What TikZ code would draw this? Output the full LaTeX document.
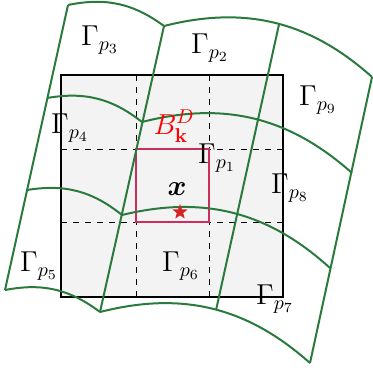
\documentclass[tikz,border=0pt]{standalone}
\usepackage{amsmath,amssymb,bm}
\usepackage{tikz}
\usetikzlibrary{shapes.geometric,arrows.meta,positioning,calc}
\definecolor{mesh}{HTML}{2A7A3E}
\definecolor{cellred}{HTML}{CC2E5C}
\definecolor{starred}{HTML}{D62424}
\definecolor{boxgray}{HTML}{F3F3F3}

\begin{document}
\begin{tikzpicture}[
    x=0.5pt, y=-0.5pt,
    patch/.style={draw=mesh, line width=1pt},
    grid/.style={draw=black, line width=0.5pt, dashed},
    cell/.style={draw=cellred, line width=0.8pt},
    lab/.style={font=\Large, inner sep=0pt},
    arc/.style={bend left=28},
    shortarc/.style={bend left=24},
]
    \useasboundingbox (0,0) rectangle (373,370);

    % background square and its dashed cells
    \fill[boxgray] (61,75) rectangle (283,297);
    \draw[grid] (136,75) -- (136,297);
    \draw[grid] (209,75) -- (209,297);
    \draw[grid] (61,149) -- (283,149);
    \draw[grid] (61,222) -- (283,222);
    \draw[black, line width=0.75pt] (61,75) rectangle (283,297);
    \draw[cell] (136,149) rectangle (209,222);

    % mesh vertices
    \coordinate (L0) at (68,5);   \coordinate (A0) at (164,26);  \coordinate (C0) at (372,77);
    \coordinate (L1) at (47,98);  \coordinate (A1) at (142,122); \coordinate (C1) at (352,173);
    \coordinate (L2) at (27,190); \coordinate (A2) at (122,215); \coordinate (C2) at (330,268);
    \coordinate (L3) at (5,290);  \coordinate (A3) at (100,312); \coordinate (C3) at (310,363);

    % curved patches
    \foreach \i in {0,...,3} {
        \draw[patch] (L\i) to[shortarc] (A\i);
    }
    \draw[patch] (A0) to[arc] coordinate[pos=0.52] (B0) (C0);
    \draw[patch] (A1) to[arc] (C1);
    \draw[patch] (A2) to[arc] (C2);
    \draw[patch] (A3) to[arc] coordinate[pos=0.52] (B3) (C3);
    \draw[patch] (L0) -- (L3);
    \draw[patch] (A0) -- (A3);
    \draw[patch] (B0) -- (B3);
    \draw[patch] (C0) -- (C3);

    % labels
    \node[lab] (lp3) at (100,40)  {$\Gamma_{p_3}$};
    \node[lab] (lp2) at (210,48)  {$\Gamma_{p_2}$};
    \node[lab] (lp9) at (318,100) {$\Gamma_{p_9}$};
    \node[lab] (lp4) at (70,128)  {$\Gamma_{p_4}$};
    \node[lab] (lp1) at (217,158) {$\Gamma_{p_1}$};
    \node[lab] (lp8) at (290,188) {$\Gamma_{p_8}$};
    \node[lab] (lp5) at (39,266)  {$\Gamma_{p_5}$};
    \node[lab] (lp6) at (181,266) {$\Gamma_{p_6}$};
    \node[lab] (lp7) at (275,299) {$\Gamma_{p_7}$};
    \node[font=\Large, text=red, inner sep=0pt] (lbox) at (174,126) {$B^{D}_{\mathbf{k}}$};
    \node[font=\Large, inner sep=0pt] (lx) at (177,189) {$\bm{x}$};
    \node[star, star points=5, star point ratio=2.4, fill=starred,
          inner sep=0pt, minimum size=8pt] (pt) at (180,212) {};
\end{tikzpicture}
\end{document}
